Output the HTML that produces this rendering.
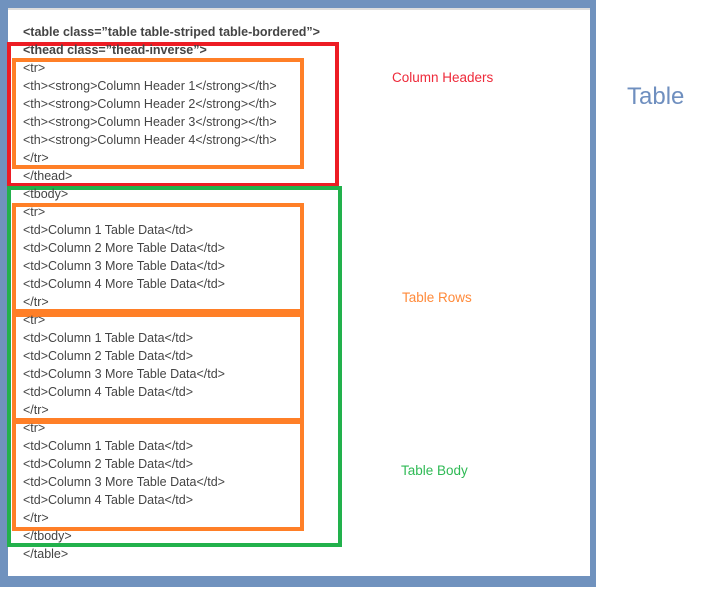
<!DOCTYPE html>
<html><head><meta charset="utf-8"><style>
html,body{margin:0;padding:0;background:#fff;}
body{width:707px;height:591px;position:relative;overflow:hidden;font-family:"Liberation Sans",Arial,sans-serif;}
.b{position:absolute;box-sizing:border-box;}
.t{position:absolute;left:23px;font-size:12.5px;line-height:18px;color:#444;white-space:nowrap;}
.lbl{position:absolute;font-family:"Liberation Sans",sans-serif;font-size:13.5px;white-space:nowrap;}
</style></head><body>
<div class="b" style="left:0;top:0;width:596px;height:587px;background:#7092be;"></div>
<div class="b" style="left:8px;top:8px;width:582px;height:568px;background:#fff;border-top:2px solid #ddd;"></div>

<div class="b" style="left:7px;top:42px;width:332px;height:145px;border:4px solid #ed1c24;"></div>
<div class="b" style="left:12px;top:58px;width:292px;height:111px;border:4px solid #ff7f27;"></div>
<div class="b" style="left:7px;top:186px;width:335px;height:361px;border:4px solid #22b14c;"></div>
<div class="b" style="left:12px;top:203px;width:292px;height:110px;border:4px solid #ff7f27;"></div>
<div class="b" style="left:12px;top:313px;width:292px;height:109px;border:4px solid #ff7f27;"></div>
<div class="b" style="left:12px;top:420px;width:292px;height:111px;border:4px solid #ff7f27;"></div>

<div class="t" style="top:23px;font-weight:bold;">&lt;table class=”table table-striped table-bordered”&gt;</div>
<div class="t" style="top:41px;font-weight:bold;">&lt;thead class=”thead-inverse”&gt;</div>
<div class="t" style="top:59px;">&lt;tr&gt;</div>
<div class="t" style="top:77px;">&lt;th&gt;&lt;strong&gt;Column Header 1&lt;/strong&gt;&lt;/th&gt;</div>
<div class="t" style="top:95px;">&lt;th&gt;&lt;strong&gt;Column Header 2&lt;/strong&gt;&lt;/th&gt;</div>
<div class="t" style="top:113px;">&lt;th&gt;&lt;strong&gt;Column Header 3&lt;/strong&gt;&lt;/th&gt;</div>
<div class="t" style="top:131px;">&lt;th&gt;&lt;strong&gt;Column Header 4&lt;/strong&gt;&lt;/th&gt;</div>
<div class="t" style="top:149px;">&lt;/tr&gt;</div>
<div class="t" style="top:167px;">&lt;/thead&gt;</div>
<div class="t" style="top:185px;">&lt;tbody&gt;</div>
<div class="t" style="top:203px;">&lt;tr&gt;</div>
<div class="t" style="top:221px;">&lt;td&gt;Column 1 Table Data&lt;/td&gt;</div>
<div class="t" style="top:239px;">&lt;td&gt;Column 2 More Table Data&lt;/td&gt;</div>
<div class="t" style="top:257px;">&lt;td&gt;Column 3 More Table Data&lt;/td&gt;</div>
<div class="t" style="top:275px;">&lt;td&gt;Column 4 More Table Data&lt;/td&gt;</div>
<div class="t" style="top:293px;">&lt;/tr&gt;</div>
<div class="t" style="top:311px;">&lt;tr&gt;</div>
<div class="t" style="top:329px;">&lt;td&gt;Column 1 Table Data&lt;/td&gt;</div>
<div class="t" style="top:347px;">&lt;td&gt;Column 2 Table Data&lt;/td&gt;</div>
<div class="t" style="top:365px;">&lt;td&gt;Column 3 More Table Data&lt;/td&gt;</div>
<div class="t" style="top:383px;">&lt;td&gt;Column 4 Table Data&lt;/td&gt;</div>
<div class="t" style="top:401px;">&lt;/tr&gt;</div>
<div class="t" style="top:419px;">&lt;tr&gt;</div>
<div class="t" style="top:437px;">&lt;td&gt;Column 1 Table Data&lt;/td&gt;</div>
<div class="t" style="top:455px;">&lt;td&gt;Column 2 Table Data&lt;/td&gt;</div>
<div class="t" style="top:473px;">&lt;td&gt;Column 3 More Table Data&lt;/td&gt;</div>
<div class="t" style="top:491px;">&lt;td&gt;Column 4 Table Data&lt;/td&gt;</div>
<div class="t" style="top:509px;">&lt;/tr&gt;</div>
<div class="t" style="top:527px;">&lt;/tbody&gt;</div>
<div class="t" style="top:545px;">&lt;/table&gt;</div>

<div class="lbl" style="left:392px;top:70px;color:#ee2a3a;">Column Headers</div>
<div class="lbl" style="left:402px;top:290px;color:#ff8a3a;">Table Rows</div>
<div class="lbl" style="left:401px;top:463px;color:#2fba55;">Table Body</div>
<div class="lbl" style="left:627px;top:83px;color:#6f8fbf;font-size:24px;">Table</div>
</body></html>
